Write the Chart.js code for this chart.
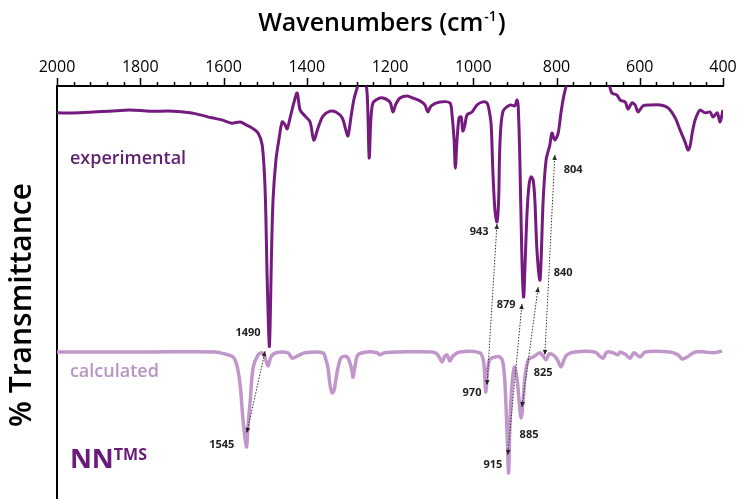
<!DOCTYPE html>
<html>
<head>
<meta charset="utf-8">
<script src="https://cdn.jsdelivr.net/npm/chart.js@4"></script>
<style>
  html, body { margin: 0; padding: 0; background: #fff; }
  canvas { display: block; }
</style>
</head>
<body>
<canvas id="grafico" width="738" height="499"></canvas>
<script>
// espectro experimental (cm-1, transmitância arbitrária)
const expWavenumber = [2000, 1945, 1914, 1873, 1825, 1777, 1721, 1680, 1656, 1628, 1604, 1580, 1560, 1546, 1531, 1517, 1507, 1500, 1495, 1490, 1488, 1485, 1481, 1474, 1467, 1459,
  1452, 1447, 1440, 1431, 1423, 1416, 1404, 1392, 1383, 1373, 1361, 1344, 1330, 1315, 1306, 1301, 1294, 1287, 1279, 1272, 1262, 1255, 1250, 1246, 1241, 1229, 1217,
  1200, 1193, 1186, 1176, 1159, 1145, 1128, 1116, 1109, 1101, 1080, 1056, 1051, 1046, 1043, 1039, 1034, 1029, 1025, 1020, 1015, 1003, 991, 979, 967, 962, 957, 953,
  948, 943, 939, 936, 929, 912, 900, 895, 892, 888, 883, 879, 876, 871, 866, 861, 856, 852, 847, 840, 837, 832, 825, 816, 811, 804, 796, 789, 782, 775, 768,
  681, 672, 667, 655, 647, 635, 628, 619, 611, 604, 592, 575, 551, 532, 515, 503, 491, 484, 479, 474, 467, 460, 455, 443, 431, 424, 414, 407, 400];
const expTransmittance = [93.5, 93.5, 93.7, 93.9, 94.2, 93.9, 93.9, 93.5, 93.0, 92.3, 91.8, 91.0, 91.3, 90.6, 89.8, 88.6, 85.7, 74.8, 53.0, 37.0, 42.0, 58.0, 72.4, 82.1, 86.9, 91.3,
  90.6, 89.6, 92.3, 95.9, 98.3, 94.2, 92.7, 91.3, 86.9, 89.8, 92.7, 93.9, 93.7, 92.3, 89.3, 87.9, 92.3, 96.6, 99.5, 101.5, 101.5, 98.3, 82.6, 91.8, 95.9, 96.9, 97.1,
  96.1, 93.7, 95.6, 97.1, 97.6, 97.1, 96.4, 95.4, 93.7, 95.2, 96.1, 95.9, 93.0, 86.9, 80.1, 86.9, 92.3, 92.5, 89.1, 90.6, 93.0, 93.7, 95.4, 96.1, 95.9, 94.2, 90.6, 79.7,
  70.0, 67.1, 72.4, 85.7, 93.7, 95.4, 95.2, 96.6, 95.0, 82.1, 57.9, 48.9, 55.4, 68.8, 76.0, 78.0, 77.2, 72.4, 60.3, 53.0, 57.9, 72.4, 82.1, 85.7, 88.6, 86.9, 88.6, 93.7, 97.8, 100.5, 101.5,
  101.5, 99.8, 98.3, 97.8, 96.6, 96.1, 94.4, 95.9, 95.4, 93.7, 95.2, 95.4, 95.4, 94.7, 92.3, 89.3, 86.4, 84.5, 85.5, 88.6, 91.8, 93.5, 94.2, 93.5, 93.7, 92.5, 93.5, 91.3, 94.2];

// espectro calculado
const calcWavenumber = [2000, 1777, 1620, 1596, 1577, 1568, 1560, 1553, 1545, 1541, 1536, 1529, 1517, 1507, 1500, 1493, 1486, 1474, 1445, 1435, 1423, 1404, 1361,
  1354, 1349, 1344, 1339, 1334, 1332, 1327, 1320, 1315, 1303, 1296, 1291, 1289, 1284, 1277, 1255, 1231, 1224, 1214, 1176, 1097, 1085, 1075, 1068, 1063, 1056, 1049,
  1032, 984, 976, 973, 970, 967, 964, 960, 948, 936, 929, 924, 919, 915, 912, 907, 901, 895, 890, 885, 880, 876, 868, 856, 840, 832, 825, 818, 808, 799, 789, 782,
  775, 756, 708, 696, 688, 679, 664, 652, 647, 633, 623, 614, 599, 587, 527, 508, 498, 486, 467, 443, 424, 402];
const calcTransmittance = [35.6, 35.6, 35.6, 35.1, 34.4, 32.4, 27.6, 19.1, 12.6, 17.9, 23.5, 31.7, 34.9, 35.4, 34.1, 32.2, 34.4, 35.4, 35.4, 34.1, 34.6, 35.4, 35.4,
  33.7, 31.7, 27.6, 25.7, 26.4, 27.6, 30.8, 33.7, 34.4, 34.4, 32.9, 30.8, 29.5, 32.2, 34.9, 35.6, 35.4, 34.9, 35.4, 35.6, 35.6, 34.9, 33.2, 34.6, 34.9, 33.4, 34.6,
  35.6, 35.4, 33.7, 30.8, 25.9, 29.3, 32.4, 33.8, 34.4, 34.4, 33.2, 28.3, 16.7, 6.3, 17.9, 27.6, 32.0, 29.3, 24.0, 19.6, 24.0, 29.3, 33.7, 34.4, 35.4, 34.6, 33.7, 35.1, 34.9, 33.9, 32.0, 33.7,
  34.9, 35.6, 35.6, 34.6, 34.1, 35.6, 35.4, 34.9, 35.6, 34.9, 34.1, 35.4, 34.4, 35.6, 35.6, 34.9, 33.9, 34.4, 35.6, 35.6, 35.4, 35.8];

const tickValues = [2000, 1800, 1600, 1400, 1200, 1000, 800, 600, 400];

// setas pontilhadas: [wn exp, T exp, wn calc, T calc]
const setas = [
  [1500, 35.8, 1544, 16.0],
  [943, 66.6, 967, 27.6],
  [883, 47.2, 917, 10.7],
  [844, 51.3, 883, 22.3],
  [804, 83.3, 828, 34.9]
];
// rótulos dos picos: [texto, wn, T]
const rotulos = [
  ['1490', 1541, 40.2], ['1545', 1604, 13.1], ['943', 986, 64.6], ['879', 921, 47.0], ['840', 784, 54.7],
  ['804', 760, 79.7], ['970', 1003, 25.7], ['915', 953, 8.2], ['885', 866, 15.5], ['825', 832, 30.5]
];

const corExp = '#751b80';
const corCalc = '#c197cb';

function seta(ctx, x1, y1, x2, y2) {
  ctx.save();
  ctx.strokeStyle = '#333';
  ctx.lineWidth = 1;
  ctx.setLineDash([1.5, 1.5]);
  ctx.beginPath();
  ctx.moveTo(x1, y1);
  ctx.lineTo(x2, y2);
  ctx.stroke();
  ctx.setLineDash([]);
  ctx.fillStyle = '#222';
  [[x1, y1, x2, y2], [x2, y2, x1, y1]].forEach(([ax, ay, bx, by]) => {
    const ang = Math.atan2(ay - by, ax - bx);
    ctx.beginPath();
    ctx.moveTo(ax, ay);
    ctx.lineTo(ax - 5 * Math.cos(ang) + 2.3 * Math.sin(ang), ay - 5 * Math.sin(ang) - 2.3 * Math.cos(ang));
    ctx.lineTo(ax - 5 * Math.cos(ang) - 2.3 * Math.sin(ang), ay - 5 * Math.sin(ang) + 2.3 * Math.cos(ang));
    ctx.closePath();
    ctx.fill();
  });
  ctx.restore();
}

const decoracoes = {
  id: 'decoracoes',
  afterDraw(chart) {
    const { ctx, chartArea, scales: { x, y } } = chart;
    ctx.save();

    // marcas do eixo superior
    ctx.strokeStyle = '#000';
    ctx.lineWidth = 1.5;
    for (let w = 400; w <= 2000; w += 40) {
      const px = Math.round(x.getPixelForValue(w)) + 0.5;
      const len = w % 200 === 0 ? 8 : 4;
      ctx.beginPath();
      ctx.moveTo(px, chartArea.top);
      ctx.lineTo(px, chartArea.top - len);
      ctx.stroke();
    }

    // título do eixo x com sobrescrito
    ctx.fillStyle = '#000';
    ctx.textBaseline = 'alphabetic';
    const fTit = "600 25px 'Open Sans'";
    const fSup = "600 14px 'Open Sans'";
    ctx.font = fSup; const wSup = ctx.measureText('-1').width;
    ctx.font = fTit;
    const p1 = 'Wavenumbers (cm', p3 = ')';
    const w1 = ctx.measureText(p1).width, w3 = ctx.measureText(p3).width;
    const tx = 381 - (w1 + wSup + w3) / 2;
    const ty = 31;
    ctx.textAlign = 'left';
    ctx.fillText(p1, tx, ty);
    ctx.font = fSup; ctx.fillText('-1', tx + w1 + 1, ty - 10);
    ctx.font = fTit; ctx.fillText(p3, tx + w1 + wSup + 2, ty);

    // título do eixo y
    ctx.save();
    ctx.translate(22, 305);
    ctx.rotate(-Math.PI / 2);
    ctx.textAlign = 'center';
    ctx.textBaseline = 'middle';
    ctx.font = "600 30px 'Open Sans'";
    ctx.fillText('% Transmittance', 0, 0);
    ctx.restore();

    // nomes das curvas
    const lx = x.getPixelForValue(1969);
    ctx.textAlign = 'left';
    ctx.textBaseline = 'alphabetic';
    ctx.font = "600 18px 'Open Sans'";
    ctx.fillStyle = '#5e1f6e';
    ctx.fillText('experimental', lx, y.getPixelForValue(81.1));
    ctx.fillStyle = '#b993c4';
    ctx.fillText('calculated', lx, y.getPixelForValue(29.5));
    ctx.fillStyle = '#6a1a7a';
    ctx.font = "700 27px 'Open Sans'";
    const yNN = y.getPixelForValue(7.5);
    ctx.fillText('NN', lx, yNN);
    const wNN = ctx.measureText('NN').width;
    ctx.font = "700 16px 'Open Sans'";
    ctx.fillText('TMS', lx + wNN, yNN - 8);

    // setas e rótulos
    setas.forEach(([we, te, wc, tc]) => {
      seta(ctx, x.getPixelForValue(we), y.getPixelForValue(te), x.getPixelForValue(wc), y.getPixelForValue(tc));
    });
    ctx.fillStyle = '#222';
    ctx.font = "700 11px 'Open Sans'";
    ctx.textAlign = 'center';
    ctx.textBaseline = 'middle';
    rotulos.forEach(([t, w, v]) => ctx.fillText(t, x.getPixelForValue(w), y.getPixelForValue(v)));

    ctx.restore();
  }
};

new Chart(document.getElementById('grafico'), {
  type: 'line',
  data: {
    datasets: [
      {
        label: 'experimental',
        data: expWavenumber.map((w, i) => ({ x: w, y: expTransmittance[i] })),
        borderColor: corExp,
        borderWidth: 3,
        pointRadius: 0,
        tension: 0.3,
        clip: 0
      },
      {
        label: 'calculated',
        data: calcWavenumber.map((w, i) => ({ x: w, y: calcTransmittance[i] })),
        borderColor: corCalc,
        borderWidth: 3.5,
        pointRadius: 0,
        tension: 0.3,
        clip: 0
      }
    ]
  },
  options: {
    responsive: false,
    animation: false,
    layout: { padding: { right: 15 } },
    plugins: { legend: { display: false }, tooltip: { enabled: false } },
    scales: {
      x: {
        type: 'linear',
        position: 'top',
        reverse: true,
        min: 400,
        max: 2000,
        afterFit: s => { s.height = 86; s.paddingLeft = 0; s.paddingRight = 0; },
        afterBuildTicks: s => { s.ticks = tickValues.map(v => ({ value: v })); },
        ticks: {
          padding: 9,
          color: '#000',
          maxRotation: 0,
          autoSkip: false,
          callback: v => String(v),
          font: { family: "'Open Sans'", size: 16 }
        },
        grid: { display: false, drawTicks: false },
        border: { display: true, color: '#000', width: 2 }
      },
      y: {
        min: 0,
        max: 100,
        afterFit: s => { s.width = 57; },
        ticks: { display: false },
        grid: { display: false, drawTicks: false },
        border: { display: true, color: '#000', width: 2 }
      }
    }
  },
  plugins: [decoracoes]
});
</script>
</body>
</html>
